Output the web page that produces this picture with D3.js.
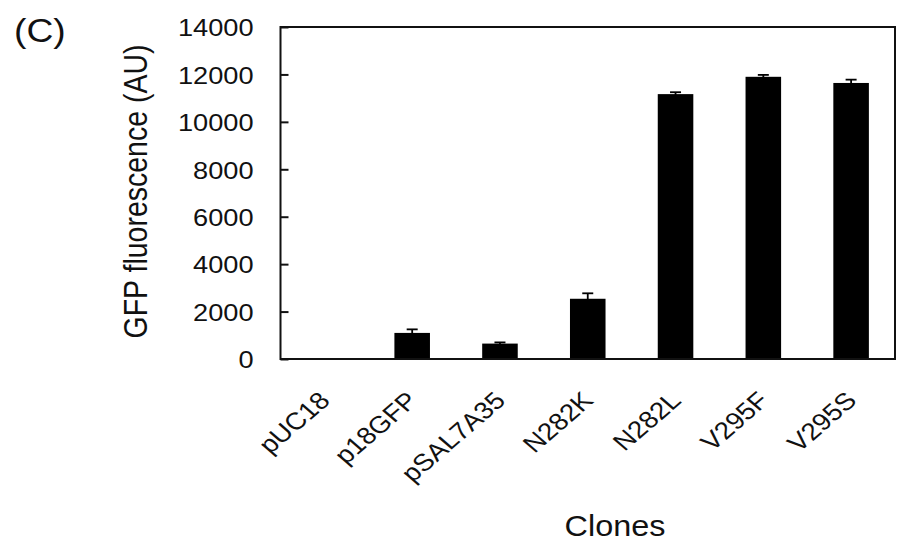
<!DOCTYPE html>
<html>
<head>
<meta charset="utf-8">
<script src="https://cdn.jsdelivr.net/npm/d3@7"></script>
<style>
  html, body { margin: 0; padding: 0; background: #fff; }
  svg { display: block; }
  text { font-family: "Liberation Sans", Arial, sans-serif; fill: #111; }
</style>
</head>
<body>
<svg id="chart" width="897" height="542"></svg>
<script>
// Clone names, mean GFP fluorescence and the upper error (SD) per clone
const categories = ["pUC18", "p18GFP", "pSAL7A35", "N282K", "N282L", "V295F", "V295S"];
const values = [0, 1100, 650, 2540, 11170, 11900, 11640];
const errors = [0, 150, 50, 230, 80, 80, 140];
const yTicks = [0, 2000, 4000, 6000, 8000, 10000, 12000, 14000];

const svg = d3.select("#chart");

const plot = { left: 280.5, right: 895, top: 27, bottom: 359 };

const x = d3.scaleBand()
  .domain(categories)
  .range([plot.left, plot.right])
  .paddingInner(0.595)
  .paddingOuter(0.2975);

const y = d3.scaleLinear()
  .domain([0, 14000])
  .range([plot.bottom, plot.top]);

const rows = categories.map((c, i) => ({ name: c, value: values[i], err: errors[i] }));

// Bars
svg.append("g")
  .selectAll("rect")
  .data(rows)
  .join("rect")
  .attr("x", d => x(d.name))
  .attr("y", d => y(d.value))
  .attr("width", x.bandwidth())
  .attr("height", d => y(0) - y(d.value))
  .attr("fill", "#000");

// Error bars (vertical stem plus cap)
const eb = svg.append("g")
  .attr("stroke", "#000")
  .attr("stroke-width", 1.8)
  .selectAll("g")
  .data(rows.filter(d => d.err > 0))
  .join("g");

eb.append("line")
  .attr("x1", d => x(d.name) + x.bandwidth() / 2)
  .attr("x2", d => x(d.name) + x.bandwidth() / 2)
  .attr("y1", d => y(d.value - d.err))
  .attr("y2", d => y(d.value + d.err));

eb.append("line")
  .attr("x1", d => x(d.name) + x.bandwidth() / 2 - 5.5)
  .attr("x2", d => x(d.name) + x.bandwidth() / 2 + 5.5)
  .attr("y1", d => y(d.value + d.err))
  .attr("y2", d => y(d.value + d.err));

// Left axis with inward ticks
const yAxis = d3.axisLeft(y)
  .tickValues(yTicks)
  .tickFormat(d3.format("d"))
  .tickSizeInner(-8)
  .tickSizeOuter(0)
  .tickPadding(27);

const gy = svg.append("g")
  .attr("transform", `translate(${plot.left},0)`)
  .call(yAxis);

gy.select(".domain").remove();
gy.selectAll(".tick line").attr("stroke", "#111").attr("stroke-width", 2);
gy.selectAll(".tick text")
  .attr("x", 0)
  .attr("dy", "0.36em")
  .attr("transform", "translate(-27,0) scale(1.11,1)")
  .style("font-size", "24.5px")
  .style("font-family", "'Liberation Sans', Arial, sans-serif")
  .attr("fill", "#111");

// Plot frame
svg.append("rect")
  .attr("x", plot.left)
  .attr("y", plot.top)
  .attr("width", plot.right - plot.left)
  .attr("height", plot.bottom - plot.top)
  .attr("fill", "none")
  .attr("stroke", "#111")
  .attr("stroke-width", 2);

// Category labels, rotated
svg.append("g")
  .selectAll("text")
  .data(categories)
  .join("text")
  .attr("text-anchor", "end")
  .attr("transform", d => `translate(${x(d) + x.bandwidth() / 2 + 7},402) scale(1.16,1) rotate(-45)`)
  .style("font-size", "24px")
  .text(d => d);

// Axis titles
svg.append("text")
  .attr("text-anchor", "middle")
  .attr("transform", "translate(146.5,191.5) scale(1.14,1) rotate(-90)")
  .style("font-size", "28.5px")
  .text("GFP fluorescence (AU)");

svg.append("text")
  .attr("text-anchor", "middle")
  .attr("transform", "translate(615,536) scale(1.08,1)")
  .style("font-size", "30px")
  .text("Clones");

// Panel letter
svg.append("text")
  .attr("transform", "translate(14,41.5) scale(1.13,1)")
  .style("font-size", "33px")
  .text("(C)");
</script>
</body>
</html>
